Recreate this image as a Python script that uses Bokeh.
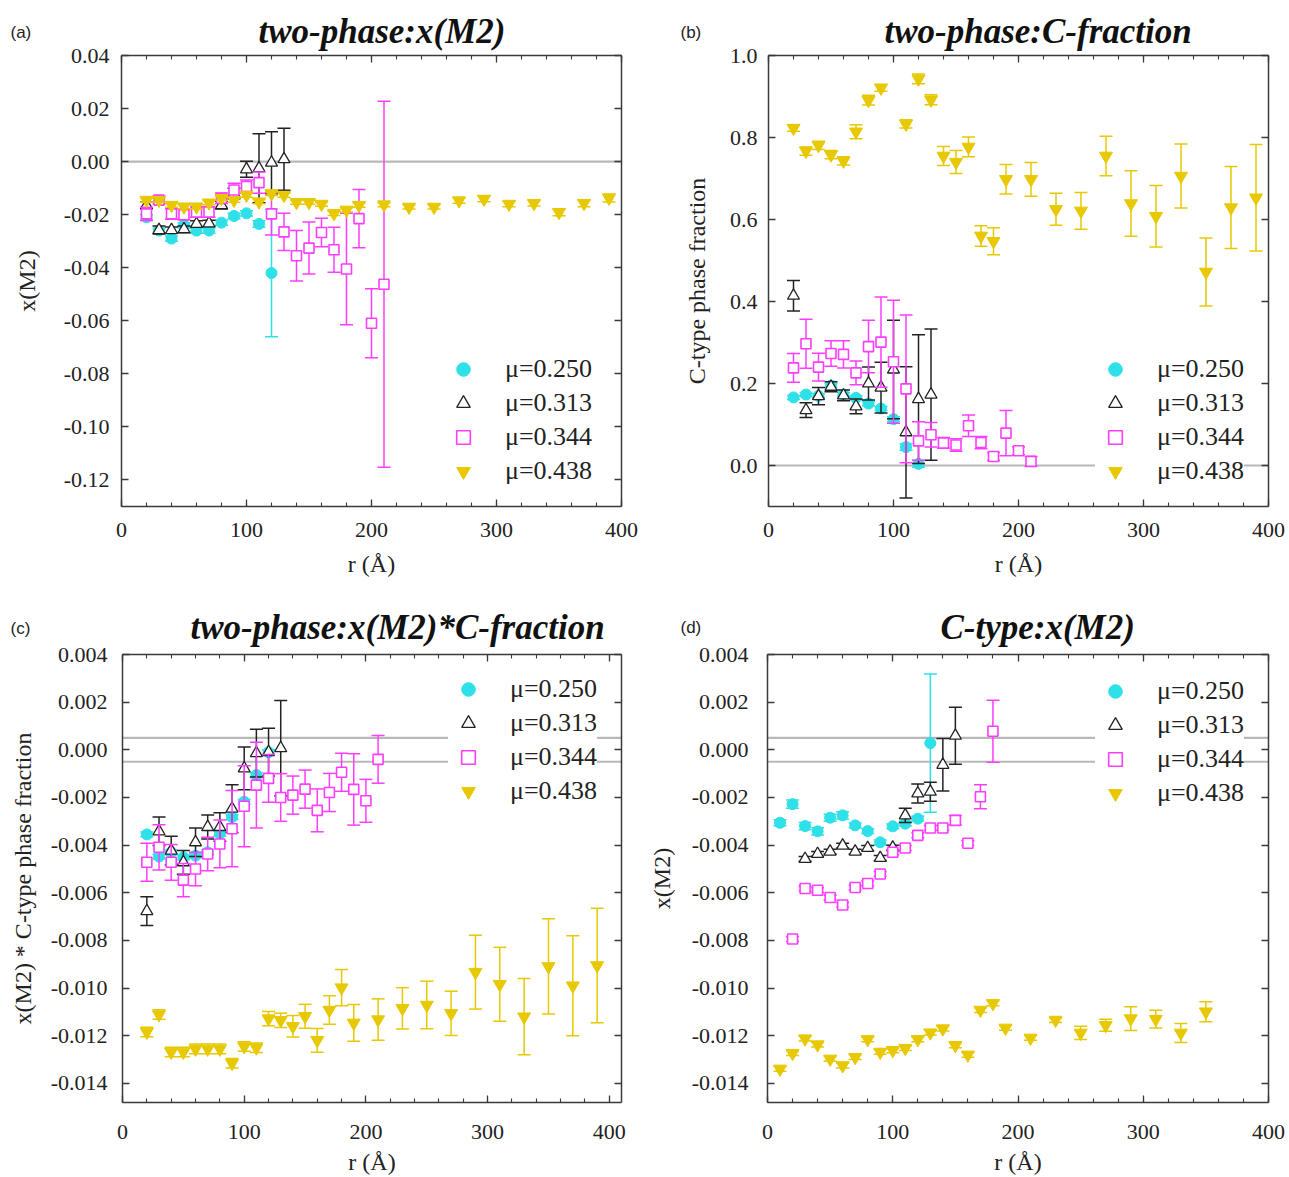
import numpy as np
from bokeh.plotting import figure
from bokeh.models import (ColumnDataSource, Span, Legend, LegendItem, LinearAxis, FixedTicker,
                          PrintfTickFormatter, CustomJSTickFormatter, Label, Range1d)
from bokeh.layouts import column, row
from bokeh.embed import file_html
from bokeh.resources import INLINE

# ---------------- data ----------------
series_labels = ["μ=0.250", "μ=0.313", "μ=0.344", "μ=0.438"]
x_ticks = [0, 100, 200, 300, 400]
x_minor = [0, 20, 40, 60, 80, 100, 120, 140, 160, 180, 200, 220, 240, 260, 280, 300, 320, 340, 360, 380, 400]

# (a) two-phase: x(M2)
a_r_250 = [20, 30, 40, 50, 60, 70, 80, 90, 100, 110, 120]
a_y_250 = [-0.021, -0.026, -0.029, -0.024, -0.026, -0.026, -0.023, -0.0205, -0.0195, -0.0235, -0.042]
a_e_250 = [0.001, 0.001, 0.001, 0.001, 0.001, 0.001, 0.001, 0.001, 0.001, 0.0012, 0.024]
a_r_313 = [20, 30, 40, 50, 60, 70, 80, 90, 100, 110, 120, 130]
a_y_313 = [-0.0165, -0.0258, -0.0258, -0.0255, -0.0235, -0.0233, -0.0164, -0.012, -0.0029, -0.0025, -0.0004, 0.0009]
a_e_313 = [0.0012, 0.0015, 0.0012, 0.0012, 0.0012, 0.0012, 0.0015, 0.002, 0.003, 0.013, 0.0117, 0.0117]
a_r_344 = [20, 30, 40, 50, 60, 70, 80, 90, 100, 110, 120, 130, 140, 150, 160, 170, 180, 190, 200, 210]
a_y_344 = [-0.0197, -0.0145, -0.0197, -0.020, -0.019, -0.019, -0.0138, -0.0107, -0.0094, -0.0079,
           -0.0197, -0.0265, -0.0355, -0.0326, -0.0267, -0.0332, -0.0405, -0.0215, -0.0609, -0.0462]
a_e_344 = [0.0025, 0.0015, 0.002, 0.002, 0.002, 0.002, 0.002, 0.0025, 0.0025, 0.004,
           0.008, 0.007, 0.0095, 0.0098, 0.0054, 0.0085, 0.021, 0.011, 0.013, 0.069]
a_r_438 = [20, 30, 40, 50, 60, 70, 80, 90, 100, 110, 120, 130, 140, 150, 160, 170, 180, 190,
           210, 230, 250, 270, 290, 310, 330, 350, 370, 390]
a_y_438 = [-0.0145, -0.0145, -0.0164, -0.017, -0.017, -0.0155, -0.0138, -0.0145, -0.0126, -0.0151,
           -0.012, -0.0126, -0.0153, -0.0153, -0.016, -0.0195, -0.0182, -0.0164,
           -0.0162, -0.0171, -0.0171, -0.0147, -0.0141, -0.016, -0.0157, -0.0191, -0.0157, -0.0137]
a_e_438 = [0.0008, 0.0008, 0.0008, 0.0008, 0.0008, 0.0008, 0.0008, 0.0008, 0.0008, 0.0008,
           0.0008, 0.0008, 0.0008, 0.0008, 0.0008, 0.0008, 0.0008, 0.0008,
           0.0008, 0.0008, 0.0008, 0.001, 0.001, 0.001, 0.001, 0.0013, 0.0013, 0.0015]

# (b) two-phase: C-fraction
b_r_250 = [20, 30, 40, 50, 60, 70, 80, 90, 100, 110, 120]
b_y_250 = [0.166, 0.173, 0.17, 0.195, 0.173, 0.165, 0.151, 0.139, 0.113, 0.045, 0.004]
b_e_250 = [0.005, 0.005, 0.005, 0.005, 0.005, 0.005, 0.005, 0.005, 0.006, 0.008, 0.008]
b_r_313 = [20, 30, 40, 50, 60, 70, 80, 90, 100, 110, 120, 130]
b_y_313 = [0.414, 0.135, 0.169, 0.192, 0.171, 0.144, 0.2, 0.19, 0.234, 0.081, 0.162, 0.173]
b_e_313 = [0.037, 0.018, 0.021, 0.012, 0.013, 0.018, 0.04, 0.062, 0.12, 0.16, 0.157, 0.16]
b_r_344 = [20, 30, 40, 50, 60, 70, 80, 90, 100, 110, 120, 130, 140, 150, 160, 170, 180, 190, 200, 210]
b_y_344 = [0.238, 0.297, 0.24, 0.273, 0.271, 0.226, 0.29, 0.301, 0.253, 0.187,
           0.06, 0.075, 0.055, 0.05, 0.097, 0.056, 0.022, 0.079, 0.036, 0.01]
b_e_344 = [0.035, 0.06, 0.034, 0.031, 0.033, 0.029, 0.064, 0.11, 0.15, 0.18,
           0.047, 0.03, 0.013, 0.015, 0.026, 0.015, 0.01, 0.055, 0.01, 0.012]
b_r_438 = [20, 30, 40, 50, 60, 70, 80, 90, 110, 120, 130, 140, 150, 160, 170, 180, 190,
           210, 230, 250, 270, 290, 310, 330, 350, 370, 390]
b_y_438 = [0.823, 0.767, 0.781, 0.758, 0.743, 0.814, 0.891, 0.921, 0.833, 0.943, 0.892, 0.755, 0.74,
           0.777, 0.56, 0.547, 0.698, 0.698, 0.625, 0.621, 0.755, 0.639, 0.608, 0.706, 0.472, 0.629, 0.653]
b_e_438 = [0.008, 0.01, 0.01, 0.01, 0.01, 0.017, 0.012, 0.008, 0.01, 0.012, 0.012, 0.023, 0.028,
           0.024, 0.025, 0.033, 0.036, 0.041, 0.039, 0.045, 0.048, 0.08, 0.075, 0.078, 0.083, 0.1, 0.13]

# (c) two-phase: x(M2) * C-fraction
c_r_250 = [20, 30, 40, 50, 60, 70, 80, 90, 100, 110, 120]
c_y_250 = [-0.00355, -0.00448, -0.0043, -0.00451, -0.00444, -0.0043, -0.00352, -0.00282, -0.00218, -0.00106, -0.0001]
c_e_250 = [0.0001, 0.0001, 0.0001, 0.0001, 0.0001, 0.0001, 0.0001, 0.0001, 0.0001, 0.0001, 0.0001]
c_r_313 = [20, 30, 40, 50, 60, 70, 80, 90, 100, 110, 120, 130]
c_y_313 = [-0.00677, -0.00342, -0.00423, -0.00472, -0.00388, -0.00324, -0.00324, -0.00247, -0.00078, -0.00014, -0.0001, 0.00007]
c_e_313 = [0.0006, 0.0006, 0.0006, 0.0005, 0.0006, 0.0005, 0.0006, 0.001, 0.0009, 0.001, 0.001, 0.002]
c_r_344 = [20, 30, 40, 50, 60, 70, 80, 90, 100, 110, 120, 130, 140, 150, 160, 170, 180, 190, 200, 210]
c_y_344 = [-0.00472, -0.00409, -0.00472, -0.00547, -0.005, -0.00437, -0.00395, -0.00331, -0.00237, -0.00148,
           -0.0012, -0.002, -0.0019, -0.00165, -0.00254, -0.00179, -0.00094, -0.00166, -0.00214, -0.0004]
c_e_344 = [0.0008, 0.00095, 0.00075, 0.0007, 0.0007, 0.0007, 0.001, 0.0016, 0.0017, 0.0018,
           0.001, 0.001, 0.0008, 0.0008, 0.0009, 0.0008, 0.0008, 0.0015, 0.0009, 0.001]
c_r_438 = [20, 30, 40, 50, 60, 70, 80, 90, 100, 110, 120, 130, 140, 150, 160, 170, 180, 190,
           210, 230, 250, 270, 290, 310, 330, 350, 370, 390]
c_y_438 = [-0.01184, -0.01111, -0.01268, -0.01268, -0.01255, -0.01255, -0.01255, -0.01315, -0.01245, -0.0125,
           -0.01128, -0.01135, -0.0116, -0.01118, -0.01219, -0.01092, -0.00998, -0.01146,
           -0.01132, -0.01085, -0.01071, -0.01106, -0.00933, -0.00984, -0.0112, -0.00909, -0.0099, -0.00905]
c_e_438 = [0.0002, 0.0002, 0.0002, 0.0002, 0.0002, 0.0002, 0.0002, 0.0002, 0.0002, 0.0002,
           0.0003, 0.0003, 0.00045, 0.0005, 0.0005, 0.0006, 0.00076, 0.00077,
           0.00087, 0.00087, 0.001, 0.00093, 0.00155, 0.00155, 0.0016, 0.002, 0.0021, 0.0024]

# (d) C-type: x(M2)
d_r_250 = [10, 20, 30, 40, 50, 60, 70, 80, 90, 100, 110, 120, 130]
d_y_250 = [-0.00306, -0.00228, -0.0032, -0.00342, -0.00285, -0.00275, -0.00317, -0.00341, -0.00388, -0.00321, -0.0031, -0.00289, 0.00028]
d_e_250 = [0.00013, 0.00017, 0.00015, 0.00015, 0.00015, 0.00015, 0.0001, 0.0001, 0.0001, 0.0001, 0.0001, 0.0001, 0.0029]
d_r_313 = [30, 40, 50, 60, 70, 80, 90, 100, 110, 120, 130, 140, 150]
d_y_313 = [-0.00458, -0.00437, -0.00427, -0.00402, -0.00427, -0.00412, -0.00454, -0.0041, -0.00275, -0.00183, -0.00176, -0.00063, 0.00059]
d_e_313 = [0.0001, 0.0001, 0.0001, 0.0001, 0.0001, 0.0001, 0.0001, 0.0001, 0.0003, 0.0004, 0.0004, 0.0011, 0.0012]
d_r_344 = [20, 30, 40, 50, 60, 70, 80, 90, 100, 110, 120, 130, 140, 150, 160, 170, 180]
d_y_344 = [-0.00794, -0.00582, -0.00589, -0.0062, -0.00651, -0.00578, -0.00561, -0.00521, -0.0043, -0.00412,
           -0.00359, -0.00328, -0.00328, -0.00296, -0.00392, -0.00197, 0.00078]
d_e_344 = [0.0001, 0.0001, 0.0001, 0.0001, 0.0001, 0.0001, 0.0001, 0.0001, 0.0001, 0.0001,
           0.0001, 0.0001, 0.0001, 0.0002, 0.0001, 0.0005, 0.0013]
d_r_438 = [10, 20, 30, 40, 50, 60, 70, 80, 90, 100, 110, 120, 130, 140, 150, 160, 170, 180, 190,
           210, 230, 250, 270, 290, 310, 330, 350]
d_y_438 = [-0.01339, -0.01273, -0.01212, -0.01237, -0.01297, -0.01325, -0.0129, -0.01215, -0.01268, -0.01261,
           -0.01252, -0.01215, -0.01187, -0.0117, -0.0124, -0.0128, -0.01092, -0.01064, -0.01167,
           -0.01209, -0.01134, -0.01188, -0.01156, -0.01128, -0.0113, -0.01188, -0.01099]
d_e_438 = [0.0001, 0.0001, 0.0001, 0.0001, 0.0001, 0.0001, 0.0001, 0.0001, 0.0001, 0.0001,
           0.0001, 0.0001, 0.0001, 0.0001, 0.0001, 0.0001, 0.0001, 0.0001, 0.0001,
           0.0001, 0.0001, 0.00028, 0.00025, 0.0005, 0.00037, 0.0004, 0.00042]

# ---------------- styles ----------------
CYAN = "#2EE0E8"
BLACK = "#222222"
MAG = "#FF3CFF"
YEL = "#E8C800"
AX = "#3a3a3a"
SERIF = "Liberation Serif"

STYLES = [
    dict(marker="circle", size=11, fill_color=CYAN, line_color=CYAN, line_width=1, ecolor=CYAN),
    dict(marker="triangle", size=12, fill_color="white", line_color=BLACK, line_width=1.3, ecolor=BLACK),
    dict(marker="square", size=10, fill_color="white", line_color=MAG, line_width=1.6, ecolor=MAG),
    dict(marker="inverted_triangle", size=13, fill_color=YEL, line_color=YEL, line_width=1, ecolor=YEL),
]


def style_axis(ax, show):
    ax.axis_line_color = AX
    ax.axis_line_width = 1.5
    ax.major_tick_line_color = AX
    ax.minor_tick_line_color = AX
    ax.major_tick_line_width = 1.3
    ax.minor_tick_line_width = 1.1
    ax.major_tick_in = 7
    ax.major_tick_out = 0
    ax.minor_tick_in = 4
    ax.minor_tick_out = 0
    if show:
        ax.major_label_text_font = SERIF
        ax.major_label_text_font_size = "22px"
        ax.major_label_text_color = "#222222"
        ax.axis_label_text_font = SERIF
        ax.axis_label_text_font_size = "24px"
        ax.axis_label_text_font_style = "normal"
        ax.axis_label_text_color = "#222222"
    else:
        ax.formatter = CustomJSTickFormatter(code="return ''")
        ax.major_label_text_font_size = "1px"
        ax.major_label_standoff = 0


def make_panel(width, height, borders, xr, yr, yticks, yfmt, ylabel, title, t_off, t_stand,
               data, leg_loc, tag, tag_xy, spans, ylab_stands, xlab_stands):
    p = figure(width=width, height=height, x_range=Range1d(*xr), y_range=Range1d(*yr),
               output_backend="svg", toolbar_location=None, tools="")
    p.min_border = 0
    p.min_border_left, p.min_border_right, p.min_border_top, p.min_border_bottom = borders
    p.outline_line_color = None
    p.background_fill_color = "white"
    p.border_fill_color = "white"
    p.xgrid.visible = False
    p.ygrid.visible = False

    p.title.text = title
    p.title.align = "left"
    p.title.offset = t_off
    p.title.standoff = t_stand
    p.title.text_font = SERIF
    p.title.text_font_style = "bold italic"
    p.title.text_font_size = "35px"
    p.title.text_color = "#111111"

    xt = FixedTicker(ticks=x_ticks, minor_ticks=x_minor)
    yt = FixedTicker(ticks=yticks, minor_ticks=[])

    xa = p.xaxis[0]
    xa.ticker = xt
    xa.axis_label = "r (Å)"
    style_axis(xa, True)
    xa.major_label_standoff = xlab_stands[0]
    xa.axis_label_standoff = xlab_stands[1]

    ya = p.yaxis[0]
    ya.ticker = yt
    ya.formatter = PrintfTickFormatter(format=yfmt)
    ya.axis_label = ylabel
    style_axis(ya, True)
    ya.major_label_standoff = ylab_stands[0]
    ya.axis_label_standoff = ylab_stands[1]

    top = LinearAxis(ticker=xt)
    style_axis(top, False)
    p.add_layout(top, "above")
    right = LinearAxis(ticker=yt)
    style_axis(right, False)
    p.add_layout(right, "right")

    for loc in spans:
        s = Span(location=loc, dimension="width", line_color="#b8b8b8", line_width=2.2, level="underlay")
        p.add_layout(s)

    items = []
    for (rr, yy, ee), st, lab in zip(data, STYLES, series_labels):
        yv = np.array(yy, dtype=float)
        ev = np.array(ee, dtype=float)
        src = ColumnDataSource(dict(r=rr, y=yv, lo=yv - ev, hi=yv + ev))
        p.segment(x0="r", y0="lo", x1="r", y1="hi", source=src, line_color=st["ecolor"], line_width=1.5)
        p.scatter(x="r", y="lo", source=src, marker="dash", size=13, line_color=st["ecolor"], line_width=1.5)
        p.scatter(x="r", y="hi", source=src, marker="dash", size=13, line_color=st["ecolor"], line_width=1.5)
        rend = p.scatter(x="r", y="y", source=src, marker=st["marker"], size=st["size"],
                         fill_color=st["fill_color"], line_color=st["line_color"], line_width=st["line_width"])
        items.append(LegendItem(label=lab, renderers=[rend]))

    leg = Legend(items=items, location=leg_loc, orientation="vertical")
    leg.background_fill_color = "white"
    leg.background_fill_alpha = 1.0
    leg.border_line_color = None
    leg.padding = 5
    leg.margin = 0
    leg.spacing = 0
    leg.glyph_width = 40
    leg.glyph_height = 34
    leg.label_height = 34
    leg.label_standoff = 22
    leg.label_text_font = SERIF
    leg.label_text_font_size = "26px"
    leg.label_text_color = "#222222"
    leg.label_text_baseline = "middle"
    p.add_layout(leg)

    # panel tag placed in the (narrow) right side panel so it is not clipped; canvas coordinates
    p.add_layout(Label(x=tag_xy[0], y=tag_xy[1], x_units="canvas", y_units="canvas", text=tag,
                       text_font="Liberation Sans", text_font_size="17px", text_baseline="middle",
                       text_color="#222222"), "right")
    return p


pa = make_panel(644, 588, (121, 23, 55, 82), (0, 400), (-0.13, 0.04),
                [0.04, 0.02, 0.0, -0.02, -0.04, -0.06, -0.08, -0.10, -0.12], "%.2f", "x(M2)",
                "two-phase:x(M2)", 137, 10,
                [(a_r_250, a_y_250, a_e_250), (a_r_313, a_y_313, a_e_313),
                 (a_r_344, a_y_344, a_e_344), (a_r_438, a_y_438, a_e_438)],
                (322, 18), "(a)", (10, 32), [0.0], (12, 21), (16, 11))

pb = make_panel(645, 588, (124, 21, 55, 82), (0, 400), (-0.1, 1.0),
                [0.0, 0.2, 0.4, 0.6, 0.8, 1.0], "%.1f", "C-type phase fraction",
                "two-phase:C-fraction", 116, 10,
                [(b_r_250, b_y_250, b_e_250), (b_r_313, b_y_313, b_e_313),
                 (b_r_344, b_y_344, b_e_344), (b_r_438, b_y_438, b_e_438)],
                (327, 18), "(b)", (36, 32), [0.0], (11, 17), (16, 11))

pc = make_panel(644, 589, (122, 23, 66, 75), (0, 410), (-0.0148, 0.004),
                [0.004, 0.002, 0.0, -0.002, -0.004, -0.006, -0.008, -0.010, -0.012, -0.014], "%.3f",
                "x(M2) * C-type phase fraction",
                "two-phase:x(M2)*C-fraction", 68, 16,
                [(c_r_250, c_y_250, c_e_250), (c_r_313, c_y_313, c_e_313),
                 (c_r_344, c_y_344, c_e_344), (c_r_438, c_y_438, c_e_438)],
                (326, 294), "(c)", (10, 40), [0.0005, -0.0005], (15, 12), (22, 7))

pd_ = make_panel(645, 589, (123, 21, 66, 75), (0, 400), (-0.0148, 0.004),
                 [0.004, 0.002, 0.0, -0.002, -0.004, -0.006, -0.008, -0.010, -0.012, -0.014], "%.3f",
                 "x(M2)",
                 "C-type:x(M2)", 173, 16,
                 [(d_r_250, d_y_250, d_e_250), (d_r_313, d_y_313, d_e_313),
                  (d_r_344, d_y_344, d_e_344), (d_r_438, d_y_438, d_e_438)],
                 (328, 292), "(d)", (36, 39), [0.0005, -0.0005], (19, 14), (22, 7))

layout = column(row(pa, pb), row(pc, pd_))
open("out.html", "w").write(file_html(layout, INLINE))
